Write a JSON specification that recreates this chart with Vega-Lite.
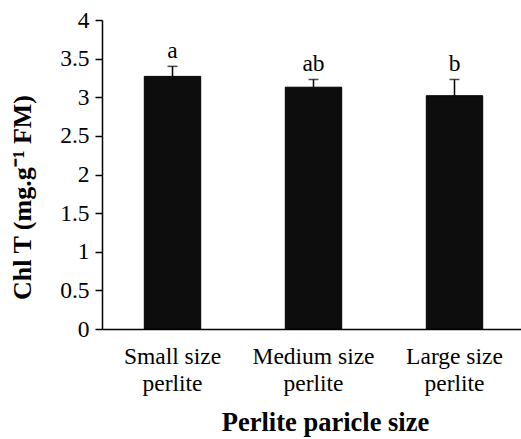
{
  "$schema": "https://vega.github.io/schema/vega-lite/v6.json",
  "autosize": "none",
  "padding": {"left": 102, "top": 20, "right": 0, "bottom": 110},
  "width": 423,
  "height": 309,
  "background": "white",
  "config": {
    "view": {"stroke": null},
    "font": "Liberation Serif",
    "axis": {"labelFont": "Liberation Serif", "titleFont": "Liberation Serif", "labelColor": "black", "titleColor": "black", "domainColor": "black", "tickColor": "black", "grid": false}
  },
  "data": {
    "values": [
      {"size": "Small size perlite", "mean": 3.27, "upper": 3.40, "letter": "a"},
      {"size": "Medium size perlite", "mean": 3.13, "upper": 3.23, "letter": "ab"},
      {"size": "Large size perlite", "mean": 3.02, "upper": 3.23, "letter": "b"}
    ]
  },
  "encoding": {
    "x": {
      "field": "size", "type": "nominal", "sort": null,
      "scale": {"paddingInner": 0.6, "paddingOuter": 0.3},
      "axis": {
        "title": "Perlite paricle size",
        "titleFontSize": 26.5, "titleFontWeight": "bold",
        "titleX": 223, "titleY": 101, "titleBaseline": "alphabetic", "titleAlign": "center",
        "labelAngle": 0, "labelFontSize": 23.5, "labelLineHeight": 27, "labelPadding": 15,
        "labelExpr": "[replace(datum.label, ' perlite', ''), 'perlite']",
        "ticks": false, "domainWidth": 1.5
      }
    }
  },
  "layer": [
    {
      "mark": {"type": "bar", "color": "#0d0d0d", "stroke": "#000", "strokeWidth": 1},
      "encoding": {
        "y": {
          "field": "mean", "type": "quantitative",
          "scale": {"domain": [0, 4], "nice": false},
          "axis": {
            "title": "Chl T (mg.g⁻¹ FM)",
            "titleFontSize": 26, "titleFontWeight": "bold",
            "titleX": -80, "titleY": 177, "titleBaseline": "middle", "titleAngle": -90,
            "values": [0, 0.5, 1, 1.5, 2, 2.5, 3, 3.5, 4], "format": "~g",
            "labelFontSize": 23.5, "labelPadding": 6, "tickSize": 7, "domainWidth": 1.5, "tickWidth": 1.5,
            "labelOverlap": false
          }
        }
      }
    },
    {
      "mark": {"type": "rule", "color": "black", "strokeWidth": 1.5},
      "encoding": {
        "y": {
          "field": "mean", "type": "quantitative",
          "scale": {"domain": [0, 4], "nice": false},
          "axis": {
            "title": "Chl T (mg.g⁻¹ FM)",
            "titleFontSize": 26, "titleFontWeight": "bold",
            "titleX": -80, "titleY": 177, "titleBaseline": "middle", "titleAngle": -90,
            "values": [0, 0.5, 1, 1.5, 2, 2.5, 3, 3.5, 4], "format": "~g",
            "labelFontSize": 23.5, "labelPadding": 6, "tickSize": 7, "domainWidth": 1.5, "tickWidth": 1.5,
            "labelOverlap": false
          }
        },
        "y2": {"field": "upper"}
      }
    },
    {
      "mark": {"type": "tick", "color": "black", "size": 10, "thickness": 1.5},
      "encoding": {
        "y": {
          "field": "upper", "type": "quantitative",
          "scale": {"domain": [0, 4], "nice": false},
          "axis": {
            "title": "Chl T (mg.g⁻¹ FM)",
            "titleFontSize": 26, "titleFontWeight": "bold",
            "titleX": -80, "titleY": 177, "titleBaseline": "middle", "titleAngle": -90,
            "values": [0, 0.5, 1, 1.5, 2, 2.5, 3, 3.5, 4], "format": "~g",
            "labelFontSize": 23.5, "labelPadding": 6, "tickSize": 7, "domainWidth": 1.5, "tickWidth": 1.5,
            "labelOverlap": false
          }
        }
      }
    },
    {
      "mark": {"type": "text", "fontSize": 23.5, "baseline": "alphabetic", "dy": -8, "color": "black"},
      "encoding": {
        "y": {
          "field": "upper", "type": "quantitative",
          "scale": {"domain": [0, 4], "nice": false},
          "axis": {
            "title": "Chl T (mg.g⁻¹ FM)",
            "titleFontSize": 26, "titleFontWeight": "bold",
            "titleX": -80, "titleY": 177, "titleBaseline": "middle", "titleAngle": -90,
            "values": [0, 0.5, 1, 1.5, 2, 2.5, 3, 3.5, 4], "format": "~g",
            "labelFontSize": 23.5, "labelPadding": 6, "tickSize": 7, "domainWidth": 1.5, "tickWidth": 1.5,
            "labelOverlap": false
          }
        },
        "text": {"field": "letter"}
      }
    }
  ]
}
